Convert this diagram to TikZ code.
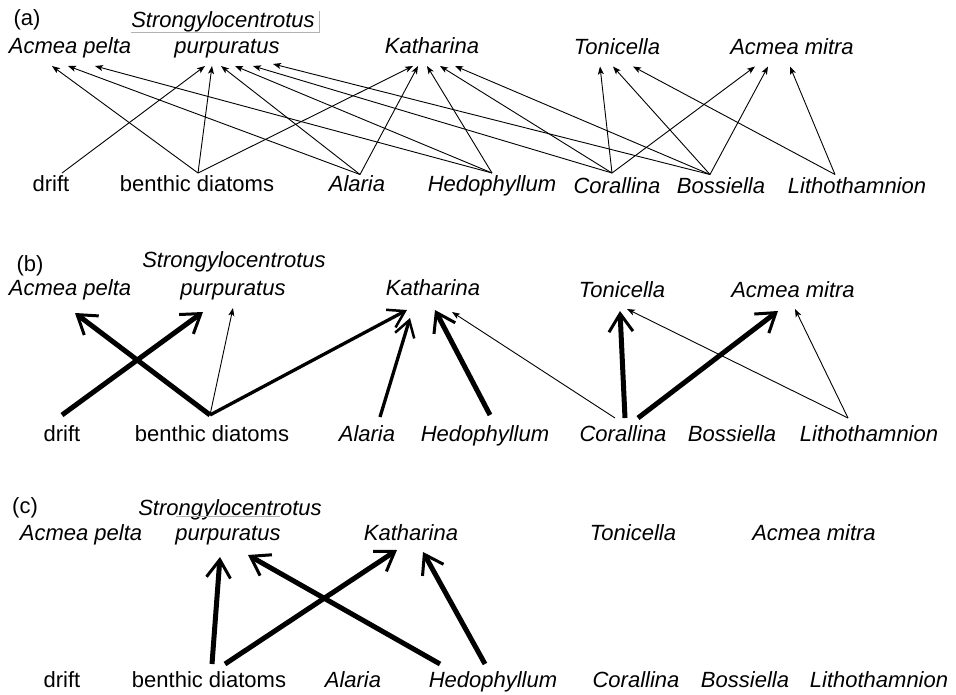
\documentclass[tikz,border=0pt]{standalone}
\usepackage{fontspec}
\setmainfont{Liberation Sans}
\usetikzlibrary{arrows.meta}
\newcommand{\webfont}{\fontsize{22}{26}\selectfont}
\tikzset{
  pred/.style={font=\webfont\itshape, text height=16pt, text depth=5pt, inner sep=0pt, outer sep=#1},
  pred/.default=8pt,
  prey/.style={font=\webfont, text height=16pt, text depth=5pt, inner sep=0pt, outer sep=#1},
  prey/.default=8pt,
  feed/.style={-{Stealth[length=8pt,width=6pt,inset=2pt]}, line width=0.9pt},
  mid feed/.style={-{Straight Barb[length=16pt,width=20pt,line width=2.5pt]}, line width=3.3pt},
  strong feed/.style={-{Straight Barb[length=18pt,width=24pt,line width=3pt]}, line width=5pt},
}

\begin{document}
\begin{tikzpicture}[x=1pt,y=-1pt]
\useasboundingbox (0,0) rectangle (956,695);

% (a)
\node at (27,20) (aLab) [prey=0pt] {(a)};
\node at (223,22) (aSt) [pred=0pt] {Strongylocentrotus};
\node at (70,48) (aAP) [pred=7.5pt] {Acmea pelta};
\node at (227,48) (aSP) [pred=7.5pt] {purpuratus};
\node at (432,48) (aKa) [pred=7.5pt] {Katharina};
\node at (617,49) (aTo) [pred=7pt] {Tonicella};
\node at (792,49) (aAM) [pred=7pt] {Acmea mitra};
\node at (51,186) (aDr) [prey=2.5pt] {drift};
\node at (197,186) (aBD) [prey=2.5pt] {benthic diatoms};
\node at (357,186) (aAl) [prey=1pt] {\textit{Alaria}};
\node at (492,186) (aHe) [prey=2.5pt] {\textit{Hedophyllum}};
\node at (617,188) (aCo) [prey=4.5pt] {\textit{Corallina}};
\node at (721,188) (aBo) [prey=3pt] {\textit{Bossiella}};
\node at (857,188) (aLi) [prey=3pt] {\textit{Lithothamnion}};
\draw[gray!60, line width=0.6pt] (aSt.south west) -- ([xshift=5pt]aSt.south east) -- ([xshift=5pt]aSt.north east);
\draw[feed] ([xshift=11pt]aDr.north) -- ([xshift=-22pt]aSP.south);
\draw[feed] ([xshift=1pt]aBD.north) -- ([xshift=-18pt]aAP.south);
\draw[feed] ([xshift=1pt]aBD.north) -- ([xshift=-15pt]aSP.south);
\draw[feed] ([xshift=1pt]aBD.north) -- ([xshift=-19pt]aKa.south);
\draw[feed] ([xshift=3pt]aAl.north) -- ([xshift=-2pt]aAP.south);
\draw[feed] ([xshift=3pt]aAl.north) -- ([xshift=-6pt]aSP.south);
\draw[feed] ([xshift=3pt]aAl.north) -- ([xshift=-14pt]aKa.south);
\draw[feed] (aHe.north) -- ([xshift=25pt]aAP.south);
\draw[feed] (aHe.north) -- ([xshift=8pt]aSP.south);
\draw[feed] (aHe.north) -- ([xshift=-5pt]aKa.south);
\draw[feed] ([xshift=-5pt]aCo.north) -- ([xshift=26pt]aSP.south);
\draw[feed] ([xshift=-5pt]aCo.north) -- ([xshift=8pt]aKa.south);
\draw[feed] ([xshift=-5pt]aCo.north) -- ([xshift=-17pt]aTo.south);
\draw[feed] ([xshift=-5pt]aCo.north) -- ([xshift=-37pt]aAM.south);
\draw[feed] ([xshift=-11pt]aBo.north) -- ([xshift=46pt,yshift=2pt]aSP.south);
\draw[feed] ([xshift=-11pt]aBo.north) -- ([xshift=23pt]aKa.south);
\draw[feed] ([xshift=-11pt]aBo.north) -- ([xshift=-4pt]aTo.south);
\draw[feed] ([xshift=-11pt]aBo.north) -- ([xshift=-24pt]aAM.south);
\draw[feed] ([xshift=-22pt]aLi.north) -- ([xshift=16pt]aTo.south);
\draw[feed] ([xshift=-22pt]aLi.north) -- ([xshift=-2pt]aAM.south);

% (b)
\node at (30,266) (bLab) [prey=0pt] {(b)};
\node at (234,262) (bSt) [pred=0pt] {Strongylocentrotus};
\node at (70,290) (bAP) [pred=9.5pt] {Acmea pelta};
\node at (233,290) (bSP) [pred=9.5pt] {purpuratus};
\node at (433,290) (bKa) [pred=9.5pt] {Katharina};
\node at (622,292) (bTo) [pred=7.5pt] {Tonicella};
\node at (793,292) (bAM) [pred=7.5pt] {Acmea mitra};
\node at (62,436) (bDr) [prey=10.5pt] {drift};
\node at (212,436) (bBD) [prey=10.5pt] {benthic diatoms};
\node at (367,436) (bAl) [prey=8.5pt] {\textit{Alaria}};
\node at (485,436) (bHe) [prey=10.5pt] {\textit{Hedophyllum}};
\node at (623,436) (bCo) [prey=7.5pt] {\textit{Corallina}};
\node at (732,436) (bBo) [prey=7.5pt] {\textit{Bossiella}};
\node at (869,436) (bLi) [prey=7.5pt] {\textit{Lithothamnion}};
\draw[strong feed] (bDr.north) -- ([xshift=-30pt,yshift=-2pt]bSP.south);
\draw[strong feed] ([xshift=-2pt]bBD.north) -- ([xshift=5pt,yshift=-3pt]bAP.south);
\draw[feed] ([xshift=-2pt]bBD.north) -- ([yshift=2pt]bSP.south);
\draw[mid feed] ([xshift=-2pt]bBD.north) -- ([xshift=-26pt]bKa.south);
\draw[mid feed] ([xshift=13pt]bAl.north) -- ([xshift=-23pt,yshift=-8pt]bKa.south);
\draw[strong feed] ([xshift=5pt]bHe.north) -- ([xshift=2pt]bKa.south);
\draw[feed] ([xshift=-8pt]bCo.north) -- ([xshift=19pt,yshift=-2pt]bKa.south);
\draw[strong feed] ([xshift=2pt]bCo.north) -- ([xshift=-2pt,yshift=-1pt]bTo.south);
\draw[strong feed] ([xshift=15pt]bCo.north) -- ([xshift=-15pt,yshift=-1pt]bAM.south);
\draw[feed] ([xshift=-21pt]bLi.north) -- ([xshift=5pt,yshift=1pt]bTo.south);
\draw[feed] ([xshift=-21pt]bLi.north) -- ([xshift=2pt,yshift=1pt]bAM.south);

% (c)
\node at (25,508) (cLab) [prey=0pt] {(c)};
\node at (230,510) (cSt) [pred=0pt] {Strongylocentrotus};
\node at (81,535) (cAP) [pred=7.5pt] {Acmea pelta};
\node at (228,535) (cSP) [pred=7.5pt] {purpuratus};
\node at (411,535) (cKa) [pred=7.5pt] {Katharina};
\node at (633,535) (cTo) [pred=7.5pt] {Tonicella};
\node at (814,535) (cAM) [pred=7.5pt] {Acmea mitra};
\node at (62,682) (cDr) [prey=7.5pt] {drift};
\node at (209,682) (cBD) [prey=7.5pt] {benthic diatoms};
\node at (353,682) (cAl) [prey=7.5pt] {\textit{Alaria}};
\node at (493,682) (cHe) [prey=7.5pt] {\textit{Hedophyllum}};
\node at (636,682) (cCo) [prey=7.5pt] {\textit{Corallina}};
\node at (745,682) (cBo) [prey=7.5pt] {\textit{Bossiella}};
\node at (879,682) (cLi) [prey=7.5pt] {\textit{Lithothamnion}};
\draw[gray!60, line width=0.6pt] ([xshift=8pt,yshift=1pt]cSP.north west) -- ([xshift=-8pt,yshift=1pt]cSP.north east);
\draw[strong feed] ([xshift=3pt]cBD.north) -- ([xshift=-8pt,yshift=-4pt]cSP.south);
\draw[strong feed] ([xshift=16pt]cBD.north) -- ([xshift=-14pt,yshift=3pt]cKa.south);
\draw[strong feed] ([xshift=-53pt]cHe.north) -- ([xshift=20pt,yshift=-2pt]cSP.south);
\draw[strong feed] ([xshift=-8pt]cHe.north) -- ([xshift=12pt,yshift=1pt]cKa.south);
\end{tikzpicture}
\end{document}
